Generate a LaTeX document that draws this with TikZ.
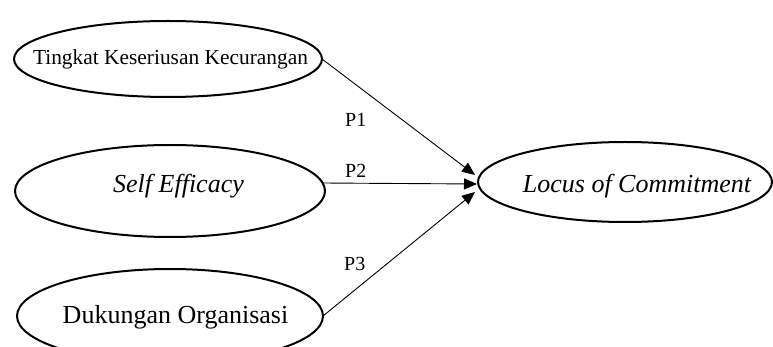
\documentclass[tikz,border=0pt]{standalone}
\usepackage{fontspec}
\setmainfont{Liberation Serif}
\usetikzlibrary{shapes.geometric,arrows.meta}
\tikzset{
  ell/.style={draw=black, line width=2pt, ellipse, inner sep=0pt, outer sep=0pt},
  lbl/.style={inner sep=0pt, anchor=base},
  plbl/.style={inner sep=0pt, anchor=base west, font=\fontsize{20}{24}\selectfont},
  arr/.style={draw=black, line width=0.9pt, -{Triangle[length=13pt,width=11pt]}}
}
\begin{document}
\begin{tikzpicture}[x=1pt,y=-1pt]
\useasboundingbox (0,0) rectangle (773,347);
\clip (0,0) rectangle (773,347);
% ellipses
\node[ell, minimum width=308pt, minimum height=76pt] (tk) at (168,59) {};
\node[ell, minimum width=310pt, minimum height=92pt] (se) at (170,191) {};
\node[ell, minimum width=306pt, minimum height=94pt] (dk) at (170,316) {};
\node[ell, minimum width=294pt, minimum height=80pt] (lc) at (625,182) {};
% texts
\node[lbl, font=\fontsize{21.4}{25}\selectfont] (tkt) at (170.5,65) {Tingkat Keseriusan Kecurangan};
\node[lbl, font=\fontsize{26}{31}\selectfont\itshape] (set) at (178.5,193) {Self Efficacy};
\node[lbl, font=\fontsize{26}{31}\selectfont] (dkt) at (175.5,323) {Dukungan Organisasi};
\node[lbl, font=\fontsize{26}{31}\selectfont\itshape] (lct) at (637,193) {Locus of Commitment};
% arrow end points
\coordinate (t1) at (475,175);
\coordinate (t2) at (477,184);
\coordinate (t3) at (475,192);
\draw[arr] (tk.east) -- (t1);
\draw[arr] (se.3) -- (t2);
\draw[arr] (dk.east) -- (t3);
% labels
\node[plbl] (p1) at (345,127) {P1};
\node[plbl] (p2) at (345,178) {P2};
\node[plbl] (p3) at (344,270) {P3};
\end{tikzpicture}
\end{document}
